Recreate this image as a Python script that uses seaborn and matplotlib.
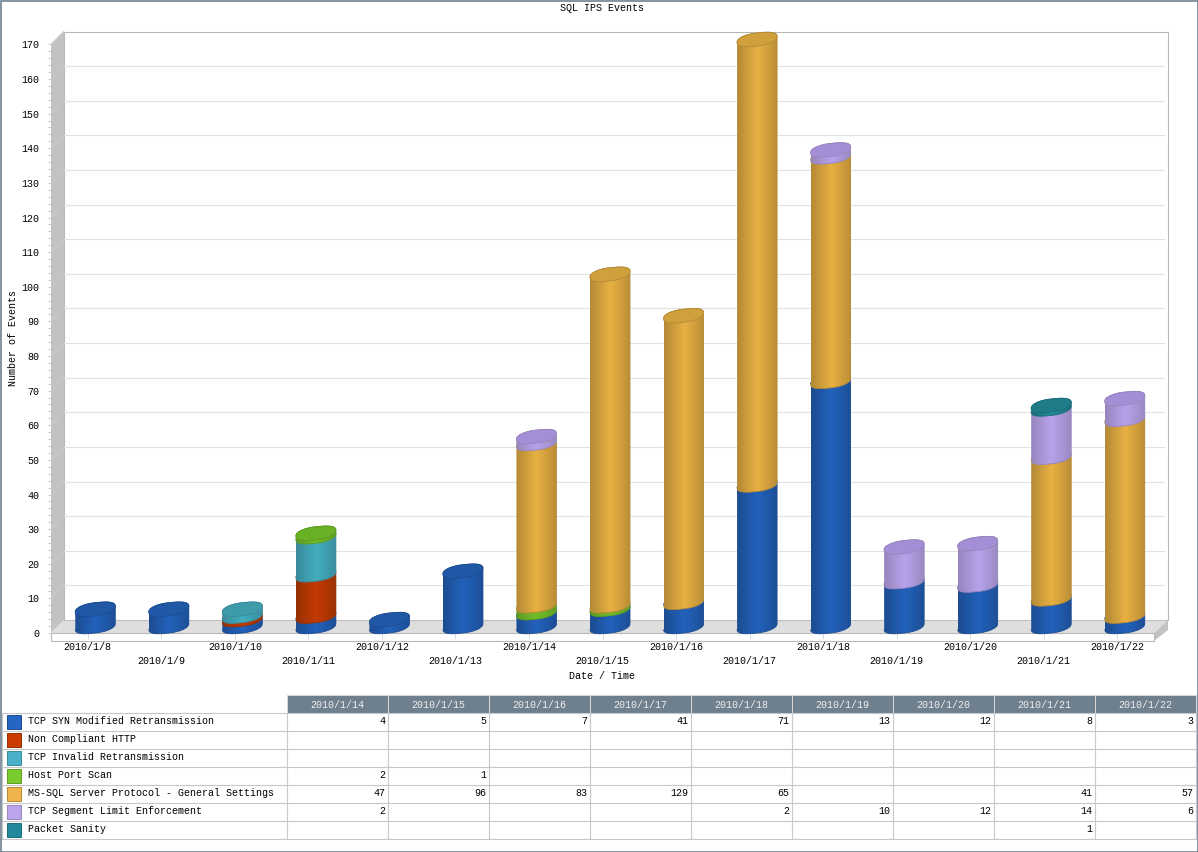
import numpy as np
import pandas as pd
import matplotlib
matplotlib.use("Agg")
import matplotlib.pyplot as plt
from matplotlib.patches import Polygon, Rectangle, PathPatch
from matplotlib.path import Path
import seaborn as sns

dates = ["2010/1/8", "2010/1/9", "2010/1/10", "2010/1/11", "2010/1/12", "2010/1/13", "2010/1/14", "2010/1/15",
         "2010/1/16", "2010/1/17", "2010/1/18", "2010/1/19", "2010/1/20", "2010/1/21", "2010/1/22"]

series_names = ["TCP SYN Modified Retransmission", "Non Compliant HTTP", "TCP Invalid Retransmission", "Host Port Scan",
                "MS-SQL Server Protocol - General Settings", "TCP Segment Limit Enforcement", "Packet Sanity"]

syn_values = [5, 5, 2, 3, 2, 16, 4, 5, 7, 41, 71, 13, 12, 8, 3]
http_values = [0, 0, 1, 12, 0, 0, 0, 0, 0, 0, 0, 0, 0, 0, 0]
invalid_values = [0, 0, 2, 11, 0, 0, 0, 0, 0, 0, 0, 0, 0, 0, 0]
scan_values = [0, 0, 0, 1, 0, 0, 2, 1, 0, 0, 0, 0, 0, 0, 0]
mssql_values = [0, 0, 0, 0, 0, 0, 47, 96, 83, 129, 65, 0, 0, 41, 57]
segment_values = [0, 0, 0, 0, 0, 0, 2, 0, 0, 0, 2, 10, 12, 14, 6]
sanity_values = [0, 0, 0, 0, 0, 0, 0, 0, 0, 0, 0, 0, 0, 1, 0]
all_values = [syn_values, http_values, invalid_values, scan_values, mssql_values, segment_values, sanity_values]

# centre colour, edge colour, cap colour, legend colour
center_colors = ["#2262BC", "#C43A02", "#42AEBE", "#72BE2A", "#E8B042", "#B8A2EC", "#228A9A"]
edge_colors = ["#1D4C92", "#963002", "#3A8A9C", "#5C9A22", "#B48A36", "#9686BC", "#1C6E7A"]
cap_colors = ["#2158A6", "#B03402", "#3E9CAA", "#68B024", "#D0A03C", "#A48ED6", "#1F7C88"]
legend_colors = ["#2566C4", "#CC3C00", "#48B0C8", "#78CC2E", "#F0B44C", "#BCA4EC", "#24889C"]

W, H = 1198, 852
FONT = "Liberation Mono"
GRID = "#E2E2E2"
FRAME = "#B8B8B8"
TXT = 7.2

sns.set_theme(style="white")
plt.rcParams["font.family"] = FONT


def px_axes(fig, left, top, right, bottom):
    return fig.add_axes([left / W, 1 - bottom / H, (right - left) / W, (bottom - top) / H])


def rounded(v):
    # a bit squarer than a true ellipse, like the flash cylinders
    return np.sign(v) * np.abs(v) ** 0.85


def cyl_path(cx, hw, y0, y1, tilt, depth):
    # lower arc of the bottom ellipse, then back over the upper arc of the top ellipse
    t = np.linspace(np.pi, 2 * np.pi, 40)
    xs = np.r_[cx + hw * rounded(np.cos(t)), cx + hw * rounded(np.cos(t - np.pi))]
    ys = np.r_[y0 + tilt * np.cos(t) + depth * rounded(np.sin(t)),
               y1 + tilt * np.cos(t - np.pi) + depth * rounded(np.sin(t - np.pi))]
    return Path(np.column_stack([xs, ys]), closed=False)


def cap_xy(cx, hw, y, tilt, depth):
    t = np.linspace(0, 2 * np.pi, 80)
    return np.column_stack([cx + hw * rounded(np.cos(t)), y + tilt * np.cos(t) + depth * rounded(np.sin(t))])


def gradient(c_center, c_edge):
    c0 = np.array(matplotlib.colors.to_rgb(c_edge))
    c1 = np.array(matplotlib.colors.to_rgb(c_center))
    pos = np.linspace(0, 1, 60)
    w = np.interp(pos, [0, 0.5, 1], [0.0, 1.0, 0.1])[:, None]
    return (c0 + (c1 - c0) * w)[None, :, :]


fig = plt.figure(figsize=(W / 100, H / 100), dpi=100, facecolor="white")

# pixel canvas for the 3d frame, the titles and the data table
bg = fig.add_axes([0, 0, 1, 1])
bg.set_xlim(0, W)
bg.set_ylim(H, 0)
bg.axis("off")
bg.add_patch(Rectangle((0.5, 0.5), W - 1, H - 1, fc="white", ec="#6E8090", lw=1.2))
bg.add_patch(Polygon([(51, 44), (64, 31), (64, 620), (51, 633)], fc="#C2C2C2", ec="none"))
bg.add_patch(Polygon([(51, 633), (64, 620), (1168, 620), (1154, 633)], fc="#DEDEDE", ec="none"))
bg.add_patch(Polygon([(1154, 633), (1168, 620), (1168, 630), (1154, 641)], fc="#C2C2C2", ec="none"))
bg.add_patch(Rectangle((51, 633), 1103, 8, fc="white", ec=FRAME, lw=0.8))
bg.plot([64, 64, 1168, 1168], [620, 31.5, 31.5, 620], color=FRAME, lw=0.8)
bg.plot([64, 1168], [620, 620], color="#C0C0C0", lw=0.8)
for v in range(10, 171, 10):
    yy = 633 - v * 3.465
    bg.plot([51, 64], [yy, yy - 13], color="#CFCFCF", lw=0.5)

bg.text(602, 8, "SQL IPS Events", ha="center", va="center", fontsize=TXT, color="black")
bg.text(602, 676, "Date / Time", ha="center", va="center", fontsize=TXT, color="black")
bg.text(13, 338, "Number of Events", ha="center", va="center", rotation=90, fontsize=TXT, color="black")

# back plane, only the grid
back = px_axes(fig, 64, 31.5, 1165, 620)
back.patch.set_alpha(0)
back.set_xlim(-0.5, 14.5)
back.set_ylim(0, 170)
back.set_xticks([])
back.set_yticks(range(10, 170, 10))
back.tick_params(left=False, labelleft=False)
back.grid(True, axis="y", color=GRID, lw=0.8)
sns.despine(ax=back, left=True, bottom=True, top=True, right=True)

# front plane, ticks and tick labels
front = px_axes(fig, 51, 44.4, 1154, 633)
front.patch.set_alpha(0)
front.set_xlim(-0.5, 14.5)
front.set_ylim(0, 170)
front.set_xticks(range(len(dates)))
front.set_xticklabels(dates, fontsize=TXT, color="black")
front.set_yticks(range(0, 171, 10))
front.set_yticks(range(0, 171, 2), minor=True)
front.tick_params(axis="y", which="major", labelsize=TXT, length=2.2, width=0.7, color="#C8C8C8", pad=6, left=True, labelcolor="black")
front.tick_params(axis="y", which="minor", length=2.2, width=0.7, color="#C8C8C8", left=True)
front.tick_params(axis="x", length=4.3, width=0.7, color="#DADADA", bottom=True)
for i, tick in enumerate(front.xaxis.get_major_ticks()):
    tick.set_pad(2 if i % 2 == 0 else 12)
sns.despine(ax=front, left=True, bottom=True, top=True, right=True)

# middle plane, the bars stand half way into the depth
# the axes reach 14 px further both ways so the ellipse arcs are not cut off
y_per_px = 170 / (626.5 - 39.5)
margin = 14
mid = px_axes(fig, 58.5, 39.5 - margin, 1161.5, 626.5 + margin)
mid.patch.set_alpha(0)
tilt = 3.0 * y_per_px
depth = 6.5 * y_per_px

bottoms = np.zeros(len(dates))
z = 3
for i_s, values in enumerate(all_values):
    df = pd.DataFrame({"date": dates, "events": values})
    n_before = len(mid.patches)
    sns.barplot(data=df, x="date", y="events", order=dates, color=center_colors[i_s], saturation=1,
                width=0.544, errorbar=None, bottom=bottoms, ax=mid, zorder=z)
    grad = gradient(center_colors[i_s], edge_colors[i_s])
    for rect in mid.patches[n_before:]:
        h = rect.get_height()
        if not h:
            rect.set_visible(False)
            continue
        hw = rect.get_width() / 2
        cx = rect.get_x() + hw
        y0 = rect.get_y()
        path = cyl_path(cx, hw, y0, y0 + h, tilt, depth)
        shape = PathPatch(path, fc="none", ec=edge_colors[i_s], lw=0.6, zorder=z + 0.2, clip_on=False)
        mid.add_patch(shape)
        rect.set_clip_path(path, mid.transData)
        img = mid.imshow(grad, extent=(cx - hw, cx + hw, y0 - depth - tilt, y0 + h + depth + tilt),
                         aspect="auto", interpolation="bilinear", zorder=z + 0.1)
        img.set_clip_path(path, mid.transData)
    bottoms = bottoms + np.array(values)
    z += 1

# top cap takes the colour of the uppermost series of each stack
for i_d in range(len(dates)):
    top_series = max(i for i in range(len(all_values)) if all_values[i][i_d] > 0)
    xy = cap_xy(i_d, 0.272, bottoms[i_d], tilt, depth)
    mid.add_patch(Polygon(xy, fc=cap_colors[top_series], ec=edge_colors[top_series], lw=0.6, zorder=z, clip_on=False))

mid.set_xlim(-0.5, 14.5)
mid.set_ylim(-margin * y_per_px, 170 + margin * y_per_px)
mid.axis("off")

# data table under the chart
table_dates = dates[6:]
col0, col_end = 287, 1196
col_w = (col_end - col0) / len(table_dates)
head_top, row_top, row_h = 695, 713, 18

for i, d in enumerate(table_dates):
    x0 = col0 + i * col_w
    bg.add_patch(Rectangle((x0, head_top), col_w, row_top - head_top, fc="#6E7F8E", ec="#D8D8D8", lw=0.7))
    bg.text(x0 + col_w / 2, (head_top + row_top) / 2 + 0.5, d, ha="center", va="center", fontsize=TXT, color="#F0F0F0")

n_rows = len(series_names)
for r in range(n_rows + 1):
    bg.plot([2, col_end], [row_top + r * row_h] * 2, color="#C8C8C8", lw=0.8)
bg.plot([2, 2], [row_top, row_top + n_rows * row_h], color="#C8C8C8", lw=0.8)
for i in range(len(table_dates) + 1):
    xx = col0 + i * col_w
    bg.plot([xx, xx], [row_top, row_top + n_rows * row_h], color="#C8C8C8", lw=0.8)

for r, name in enumerate(series_names):
    yc = row_top + r * row_h + 8.5
    bg.add_patch(Rectangle((7, yc - 7), 14, 14, fc=legend_colors[r], ec=edge_colors[r], lw=0.7))
    bg.text(28, yc, name, ha="left", va="center", fontsize=TXT, color="black")
    for i, v in enumerate(all_values[r][6:]):
        if v:
            bg.text(col0 + (i + 1) * col_w - 3, yc, str(v), ha="right", va="center", fontsize=TXT, color="black")

fig.savefig("out.png", dpi=100)
plt.close(fig)
